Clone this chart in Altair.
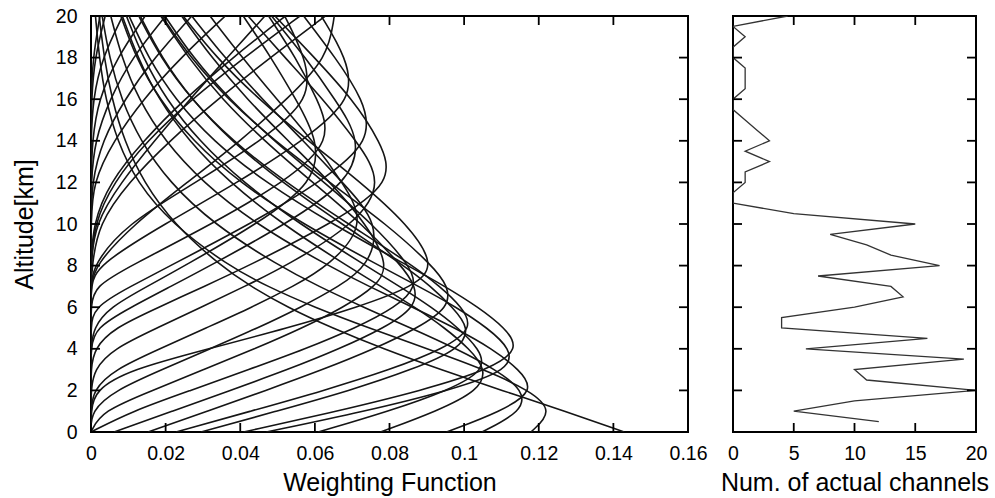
import altair as alt
import pandas as pd

# ---------------- data: weighting functions (x) at altitude grid (km) ----------------
ALT = [0, 1, 2, 3, 4, 5, 6, 7, 8, 10, 12, 14, 16, 18, 20]

C01 = [0.1429, 0.1271, 0.1101, 0.0936, 0.0783, 0.0646, 0.0526, 0.0428, 0.0346, 0.0222, 0.0141, 0.0089, 0.0056, 0.0035, 0.0022]
C02 = [0.1179, 0.1240, 0.1176, 0.1054, 0.0901, 0.0745, 0.0598, 0.0472, 0.0367, 0.0217, 0.0123, 0.0070, 0.0039, 0.0022, 0.0012]
C03 = [0.1048, 0.1157, 0.1160, 0.1085, 0.0980, 0.0857, 0.0730, 0.0610, 0.0502, 0.0328, 0.0210, 0.0132, 0.0081, 0.0049, 0.0030]
C04 = [0.0953, 0.1101, 0.1190, 0.1148, 0.1076, 0.0976, 0.0862, 0.0745, 0.0634, 0.0441, 0.0299, 0.0197, 0.0127, 0.0082, 0.0053]
C05 = [0.0776, 0.0927, 0.1040, 0.1060, 0.1014, 0.0949, 0.0868, 0.0777, 0.0685, 0.0512, 0.0371, 0.0261, 0.0181, 0.0125, 0.0084]
C06 = [0.0609, 0.0798, 0.0958, 0.1060, 0.1040, 0.0985, 0.0913, 0.0827, 0.0736, 0.0559, 0.0407, 0.0289, 0.0201, 0.0139, 0.0095]
C07 = [0.0470, 0.0735, 0.0961, 0.1125, 0.1125, 0.1063, 0.0980, 0.0878, 0.0772, 0.0567, 0.0397, 0.0272, 0.0183, 0.0120, 0.0080]
C08 = [0.0409, 0.0660, 0.0887, 0.1069, 0.1150, 0.1110, 0.1038, 0.0949, 0.0849, 0.0646, 0.0467, 0.0326, 0.0225, 0.0153, 0.0102]
C09 = [0.0295, 0.0497, 0.0695, 0.0861, 0.0990, 0.1015, 0.0969, 0.0911, 0.0839, 0.0672, 0.0512, 0.0375, 0.0269, 0.0189, 0.0132]
C10 = [0.0228, 0.0428, 0.0626, 0.0803, 0.0946, 0.1025, 0.0995, 0.0935, 0.0863, 0.0690, 0.0521, 0.0379, 0.0268, 0.0186, 0.0128]
C11 = [0.0153, 0.0311, 0.0469, 0.0622, 0.0760, 0.0876, 0.0960, 0.0958, 0.0915, 0.0792, 0.0639, 0.0492, 0.0366, 0.0266, 0.0190]
C12 = [0.0062, 0.0218, 0.0373, 0.0528, 0.0666, 0.0786, 0.0870, 0.0872, 0.0832, 0.0727, 0.0594, 0.0464, 0.0351, 0.0260, 0.0187]
C13 = [0.0000, 0.0110, 0.0267, 0.0423, 0.0576, 0.0709, 0.0818, 0.0875, 0.0855, 0.0755, 0.0625, 0.0490, 0.0371, 0.0273, 0.0198]
C14 = [0.0000, 0.0000, 0.0010, 0.0105, 0.0316, 0.0527, 0.0715, 0.0866, 0.0925, 0.0848, 0.0723, 0.0582, 0.0449, 0.0336, 0.0247]
C15 = [0.0000, 0.0028, 0.0165, 0.0302, 0.0439, 0.0567, 0.0677, 0.0764, 0.0800, 0.0738, 0.0642, 0.0528, 0.0418, 0.0323, 0.0243]
C16 = [0.0000, 0.0000, 0.0064, 0.0191, 0.0319, 0.0447, 0.0563, 0.0665, 0.0744, 0.0775, 0.0674, 0.0569, 0.0459, 0.0358, 0.0270]
C17 = [0.0000, 0.0000, 0.0005, 0.0062, 0.0185, 0.0308, 0.0432, 0.0542, 0.0639, 0.0740, 0.0674, 0.0594, 0.0498, 0.0405, 0.0319]
C18 = [0.0000, 0.0000, 0.0000, 0.0008, 0.0059, 0.0177, 0.0295, 0.0412, 0.0525, 0.0709, 0.0785, 0.0711, 0.0622, 0.0520, 0.0421]
C19 = [0.0000, 0.0000, 0.0000, 0.0000, 0.0008, 0.0061, 0.0182, 0.0303, 0.0424, 0.0642, 0.0815, 0.0775, 0.0701, 0.0599, 0.0493]
C20 = [0.0000, 0.0000, 0.0000, 0.0000, 0.0000, 0.0006, 0.0050, 0.0151, 0.0252, 0.0445, 0.0600, 0.0610, 0.0549, 0.0483, 0.0408]
C21 = [0.0000, 0.0000, 0.0000, 0.0000, 0.0000, 0.0010, 0.0107, 0.0214, 0.0320, 0.0523, 0.0690, 0.0725, 0.0654, 0.0575, 0.0484]
C22 = [0.0000, 0.0000, 0.0000, 0.0000, 0.0000, 0.0000, 0.0000, 0.0008, 0.0108, 0.0324, 0.0518, 0.0650, 0.0607, 0.0549, 0.0476]
C23 = [0.0000, 0.0000, 0.0000, 0.0000, 0.0000, 0.0000, 0.0006, 0.0106, 0.0213, 0.0427, 0.0614, 0.0755, 0.0730, 0.0655, 0.0570]
C24 = [0.0000, 0.0000, 0.0000, 0.0000, 0.0000, 0.0000, 0.0000, 0.0000, 0.0015, 0.0197, 0.0394, 0.0568, 0.0705, 0.0685, 0.0617]
C25 = [0.0000, 0.0000, 0.0000, 0.0000, 0.0000, 0.0000, 0.0000, 0.0000, 0.0005, 0.0094, 0.0282, 0.0456, 0.0592, 0.0575, 0.0519]
C26 = [0.0000, 0.0000, 0.0000, 0.0000, 0.0000, 0.0000, 0.0000, 0.0000, 0.0010, 0.0115, 0.0258, 0.0401, 0.0526, 0.0635, 0.0652]
C27 = [0.0000, 0.0000, 0.0000, 0.0000, 0.0000, 0.0000, 0.0000, 0.0000, 0.0003, 0.0020, 0.0100, 0.0210, 0.0340, 0.0480, 0.0628]
C28 = [0.0000, 0.0000, 0.0000, 0.0000, 0.0000, 0.0000, 0.0000, 0.0000, 0.0000, 0.0005, 0.0050, 0.0140, 0.0250, 0.0380, 0.0521]
C29 = [0.0000, 0.0000, 0.0000, 0.0000, 0.0000, 0.0000, 0.0000, 0.0000, 0.0000, 0.0010, 0.0080, 0.0170, 0.0265, 0.0365, 0.0466]
C30 = [0.0000, 0.0000, 0.0000, 0.0000, 0.0000, 0.0000, 0.0000, 0.0000, 0.0000, 0.0000, 0.0005, 0.0060, 0.0140, 0.0240, 0.0360]
C31 = [0.0000, 0.0000, 0.0000, 0.0000, 0.0000, 0.0000, 0.0000, 0.0000, 0.0000, 0.0000, 0.0002, 0.0030, 0.0090, 0.0170, 0.0270]
C32 = [0.0000, 0.0000, 0.0000, 0.0000, 0.0000, 0.0000, 0.0000, 0.0000, 0.0000, 0.0000, 0.0000, 0.0010, 0.0050, 0.0110, 0.0200]
C33 = [0.0000, 0.0000, 0.0000, 0.0000, 0.0000, 0.0000, 0.0000, 0.0000, 0.0000, 0.0000, 0.0000, 0.0003, 0.0020, 0.0070, 0.0145]
C34 = [0.0000, 0.0000, 0.0000, 0.0000, 0.0000, 0.0000, 0.0000, 0.0000, 0.0000, 0.0000, 0.0000, 0.0000, 0.0005, 0.0030, 0.0085]
C35 = [0.0000, 0.0000, 0.0000, 0.0000, 0.0000, 0.0000, 0.0000, 0.0000, 0.0000, 0.0000, 0.0000, 0.0000, 0.0001, 0.0010, 0.0038]
C36 = [0.0000, 0.0000, 0.0000, 0.0000, 0.0000, 0.0000, 0.0000, 0.0000, 0.0000, 0.0000, 0.0000, 0.0000, 0.0000, 0.0005, 0.0024]
C37 = [0.0000, 0.0000, 0.0000, 0.0000, 0.0000, 0.0000, 0.0000, 0.0000, 0.0000, 0.0008, 0.0060, 0.0150, 0.0270, 0.0410, 0.0560]

CURVES = [C01, C02, C03, C04, C05, C06, C07, C08, C09, C10, C11, C12, C13, C14, C15, C16, C17, C18, C19,
          C20, C21, C22, C23, C24, C25, C26, C27, C28, C29, C30, C31, C32, C33, C34, C35, C36, C37]

# ---------------- data: number of actual channels per altitude ----------------
CH_ALT = [0.5, 1.0, 1.5, 2.0, 2.5, 3.0, 3.5, 4.0, 4.5, 5.0, 5.5, 6.0, 6.5, 7.0, 7.5, 8.0, 8.5, 9.0, 9.5, 10.0,
          10.5, 11.0, 11.5, 12.0, 12.5, 13.0, 13.5, 14.0, 14.5, 15.0, 15.5, 16.0, 16.5, 17.0, 17.5, 18.0, 18.5,
          19.0, 19.5, 20.0]
CH_NUM = [12, 5, 10, 20, 11, 10, 19, 6, 16, 4, 4, 10, 14, 13, 7, 17, 13, 11, 8, 15,
          5, 0, 0, 1, 1, 3, 1, 3, 2, 1, 0, 0, 1, 1, 1, 0, 0,
          1, 0, 4.5]

X_TICKS = [0, 0.02, 0.04, 0.06, 0.08, 0.1, 0.12, 0.14, 0.16]
Y_TICKS = [0, 2, 4, 6, 8, 10, 12, 14, 16, 18, 20]
N_TICKS = [0, 5, 10, 15, 20]

rows = []
for i, xs in enumerate(CURVES):
    for z, w in zip(ALT, xs):
        rows.append({"curve": i, "alt": z, "w": w})
wf = pd.DataFrame(rows)
ch = pd.DataFrame({"alt": CH_ALT, "num": CH_NUM})

FONT = "Liberation Sans"
TICK_LEN = 9
TICK_W = 1.8
H = 416
W_LEFT = 597
W_RIGHT = 243

x_left = alt.Scale(domain=[0, 0.16], nice=False, zero=False)
x_right = alt.Scale(domain=[0, 20], nice=False, zero=False)
y_sc = alt.Scale(domain=[0, 20], nice=False, zero=False)

AX_LX = alt.Axis(values=X_TICKS, format="~g", title="Weighting Function", ticks=False,
                 domain=False, grid=False, labelPadding=12, titlePadding=8, labelFlush=False)
AX_LY = alt.Axis(values=Y_TICKS, title="Altitude[km]", ticks=False, domain=False,
                 grid=False, labelPadding=14, titlePadding=18, labelFlush=False)
AX_RX = alt.Axis(values=N_TICKS, title="Num. of actual channels", ticks=False,
                 domain=False, grid=False, labelPadding=12, titlePadding=8, labelFlush=False)
AX_RY = alt.Axis(values=Y_TICKS, labels=False, title=None, ticks=False, domain=False, grid=False)


def tick_layers(xscale, xaxis, yaxis, xvals, yvals, width):
    xt = pd.DataFrame({"t": xvals})
    yt = pd.DataFrame({"t": yvals})
    rule = dict(color="#000", strokeWidth=TICK_W)
    bottom = alt.Chart(xt).mark_rule(**rule).encode(
        x=alt.X("t:Q", scale=xscale, axis=xaxis),
        y=alt.value(H - TICK_LEN), y2=alt.value(H))
    top = alt.Chart(xt).mark_rule(**rule).encode(
        x=alt.X("t:Q", scale=xscale, axis=xaxis),
        y=alt.value(0), y2=alt.value(TICK_LEN))
    leftt = alt.Chart(yt).mark_rule(**rule).encode(
        y=alt.Y("t:Q", scale=y_sc, axis=yaxis),
        x=alt.value(0), x2=alt.value(TICK_LEN))
    rightt = alt.Chart(yt).mark_rule(**rule).encode(
        y=alt.Y("t:Q", scale=y_sc, axis=yaxis),
        x=alt.value(width - TICK_LEN), x2=alt.value(width))
    return [bottom, top, leftt, rightt]


curves = alt.Chart(wf).mark_line(
    interpolate="basis", clip=True, color="#151515", strokeWidth=1.6
).encode(
    x=alt.X("w:Q", scale=x_left, axis=AX_LX),
    y=alt.Y("alt:Q", scale=y_sc, axis=AX_LY),
    detail="curve:N",
    order="alt:Q",
)
left = alt.layer(curves, *tick_layers(x_left, AX_LX, AX_LY, X_TICKS, Y_TICKS, W_LEFT)).properties(
    width=W_LEFT, height=H)

chan = alt.Chart(ch).mark_line(clip=True, color="#333333", strokeWidth=1.3).encode(
    x=alt.X("num:Q", scale=x_right, axis=AX_RX),
    y=alt.Y("alt:Q", scale=y_sc, axis=AX_RY),
    order="alt:Q",
)
right = alt.layer(chan, *tick_layers(x_right, AX_RX, AX_RY, N_TICKS, Y_TICKS, W_RIGHT)).properties(
    width=W_RIGHT, height=H)

chart = alt.hconcat(left, right, spacing=45, bounds="flush").properties(
    padding={"left": 11, "top": 5, "right": 5, "bottom": 5},
    background="white",
).configure_view(
    stroke="#000", strokeWidth=2
).configure_axis(
    labelFont=FONT, titleFont=FONT, labelFontSize=19.5, titleFontSize=25,
    labelColor="#000", titleColor="#000", titleFontWeight="normal"
)

chart.save("out.html", embed_options={"renderer": "svg", "actions": False})
